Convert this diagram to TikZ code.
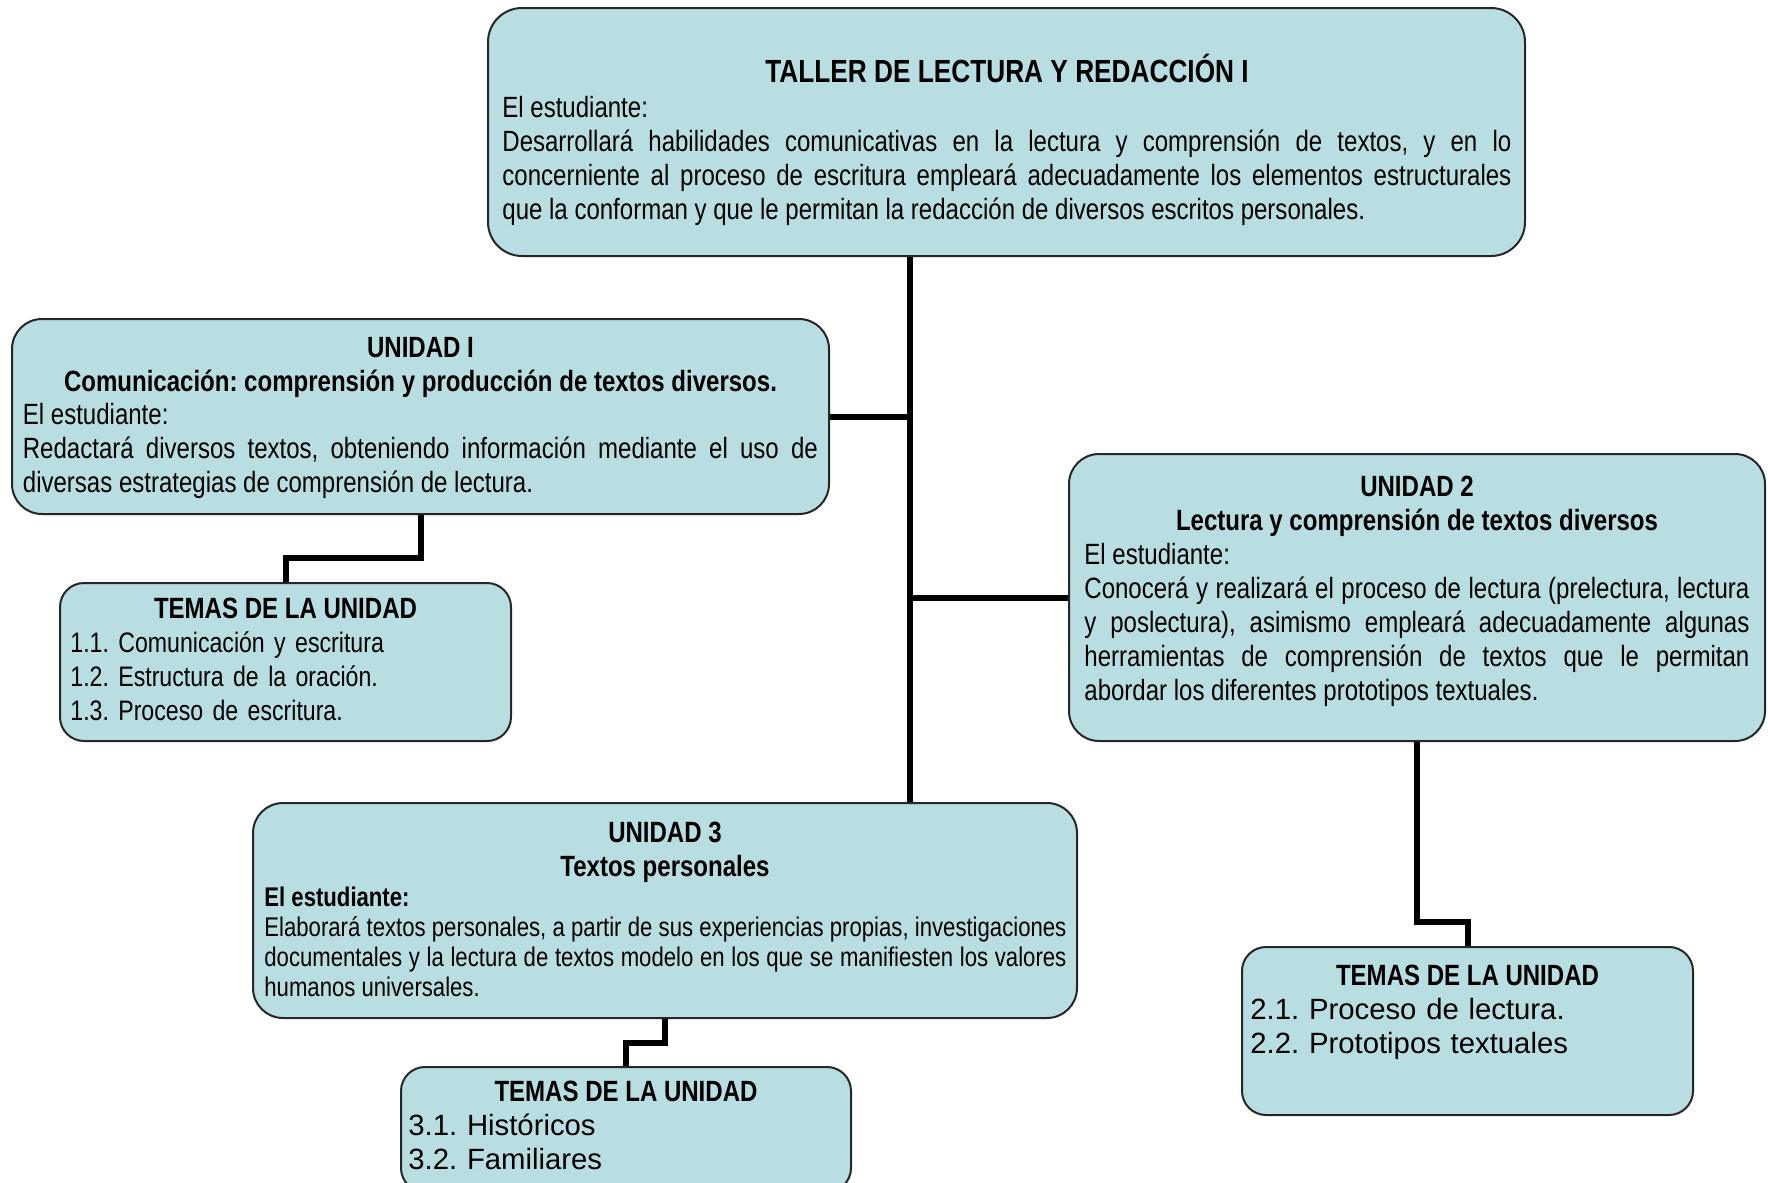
\documentclass[tikz,border=0pt]{standalone}
\usepackage{fontspec}
\setmainfont{Liberation Sans}[FakeStretch=0.82]
\newfontfamily\widefont{Liberation Sans}
\usetikzlibrary{fit,backgrounds}
\definecolor{boxfill}{RGB}{184,222,226}
\setlength{\parindent}{0pt}
\frenchspacing
\newcommand{\fmain}{\fontsize{14.65pt}{17pt}\selectfont}
\newcommand{\ftitle}{\fontsize{16pt}{19pt}\selectfont\bfseries}
\newcommand{\fsmall}{\fontsize{13.5pt}{15pt}\selectfont}
\newcommand{\fitem}{\fontsize{14.1pt}{17pt}\selectfont}
\newcommand{\fwide}{\widefont\fontsize{14.65pt}{17pt}\selectfont}
\tikzset{
  box/.style={draw=black!85, line width=1pt, fill=boxfill, inner sep=0pt, rounded corners=15pt},
  head/.style={anchor=base, inner sep=0pt, font=\fmain\bfseries},
  body/.style={anchor=north west, inner sep=0pt, align=justify, font=\fmain},
  items/.style={anchor=north west, inner sep=0pt, align=left, font=\fitem},
  link/.style={line width=3pt, draw=black}
}
\begin{document}
\begin{tikzpicture}[x=0.5pt,y=-0.5pt]
\useasboundingbox (0,0) rectangle (1768,1183);
\clip (0,0) rectangle (1768,1183);
% boxes
\node[box, rounded corners=17pt, fit={(488,8) (1525,256)}] (top) {};
\node[box, fit={(12,319) (829,514)}] (u1) {};
\node[box, fit={(1069,454) (1765,741)}] (u2) {};
\node[box, fit={(253,803) (1077,1018)}] (u3) {};
\node[box, rounded corners=12pt, fit={(60,583) (511,741)}] (t1) {};
\node[box, rounded corners=12pt, fit={(1242,947) (1693,1115)}] (t2) {};
\node[box, rounded corners=12pt, fit={(401,1067) (851,1192)}] (t3) {};
% texts: top
\node[anchor=base, inner sep=0pt, font=\ftitle] (title) at (1007,83) {TALLER DE LECTURA Y REDACCIÓN I};
\node[body, text width=504.5pt] (topbody) at (502,93.2) {\strut El estudiante:\par Desarrollará habilidades comunicativas en la lectura y comprensión de textos, y en lo\linebreak concerniente al proceso de escritura empleará adecuadamente los elementos estructurales\linebreak que la conforman y que le permitan la redacción de diversos escritos personales.};
% unidad I
\node[head] (u1h1) at (420.5,357) {UNIDAD I};
\node[head] (u1h2) at (420.5,391) {Comunicación: comprensión y producción de textos diversos.};
\node[body, text width=397.5pt] (u1body) at (22.5,400.2) {\strut El estudiante:\par Redactará diversos textos, obteniendo información mediante el uso de\linebreak diversas estrategias de comprensión de lectura.};
% temas 1
\node[head] (t1h) at (285.5,618) {TEMAS DE LA UNIDAD};
\node[items, text width=215pt] (t1body) at (70,628.2) {\strut 1.1. Comunicación y escritura\\1.2. Estructura de la oración.\\1.3. Proceso de escritura.};
% unidad 2
\node[head] (u2h1) at (1417,496) {UNIDAD 2};
\node[head] (u2h2) at (1417,530) {Lectura y comprensión de textos diversos};
\node[body, text width=332.5pt] (u2body) at (1084,540.2) {\strut El estudiante:\par Conocerá y realizará el proceso de lectura (prelectura, lectura\linebreak y poslectura), asimismo empleará adecuadamente algunas\linebreak herramientas de comprensión de textos que le permitan\linebreak abordar los diferentes prototipos textuales.};
% temas 2
\node[head] (t2h) at (1467.5,985) {TEMAS DE LA UNIDAD};
\node[items, font=\fwide, text width=215pt] (t2body) at (1250,995.2) {\strut 2.1. Proceso de lectura.\\2.2. Prototipos textuales};
% unidad 3
\node[head] (u3h1) at (665,842) {UNIDAD 3};
\node[head] (u3h2) at (665,876) {Textos personales};
\node[body, font=\fsmall, text width=401pt] (u3body) at (264,885) {\strut\textbf{El estudiante:}\par Elaborará textos personales, a partir de sus experiencias propias, investigaciones\linebreak documentales y la lectura de textos modelo en los que se manifiesten los valores\linebreak humanos universales.};
% temas 3
\node[head] (t3h) at (626,1101) {TEMAS DE LA UNIDAD};
\node[items, font=\fwide, text width=215pt] (t3body) at (408,1111.2) {\strut 3.1. Históricos\\3.2. Familiares};
% connectors
\coordinate (tx) at (910,0);
\coordinate (s1) at (0,558);
\coordinate (s2) at (0,922);
\coordinate (s3) at (0,1043);
\begin{pgfonlayer}{background}
\draw[link] (top.south -| tx) -- (u3.north -| tx);
\draw[link] (u1.east) -- (u1.east -| tx);
\draw[link] (u2.west) -- (u2.west -| tx);
\draw[link] (u1.south) -- (u1.south |- s1) -| (t1.north);
\draw[link] (u2.south) -- (u2.south |- s2) -| (t2.north);
\draw[link] (u3.south) -- (u3.south |- s3) -| (t3.north);
\end{pgfonlayer}
\end{tikzpicture}
\end{document}
